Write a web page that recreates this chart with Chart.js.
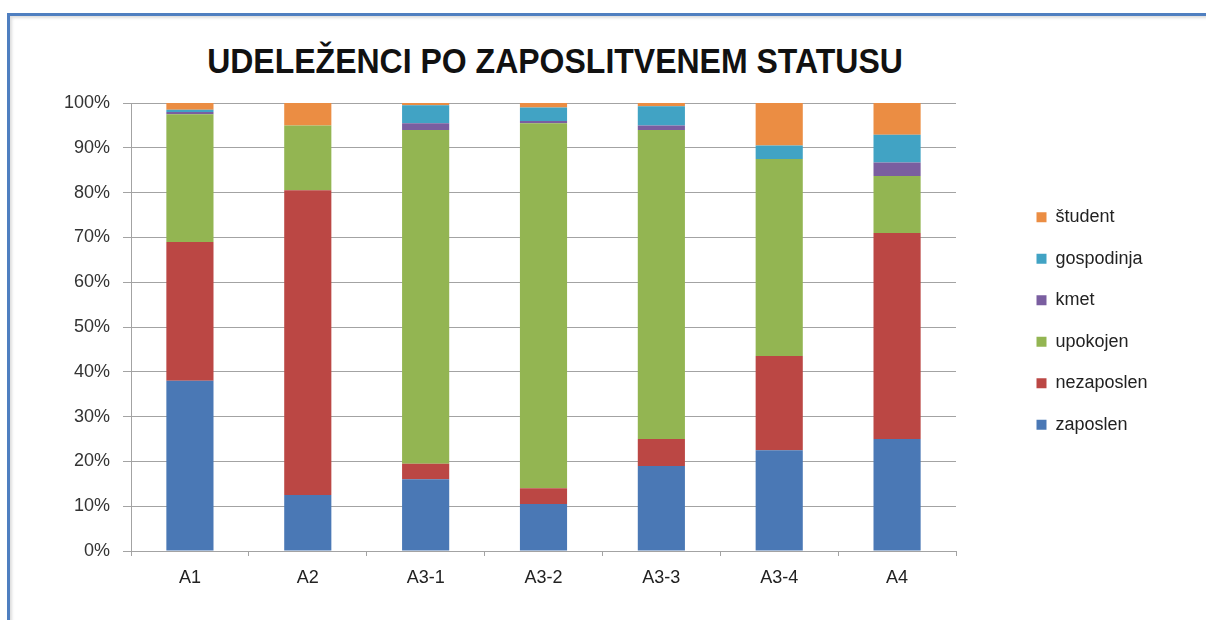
<!DOCTYPE html>
<html>
<head>
<meta charset="utf-8">
<script src="https://cdn.jsdelivr.net/npm/chart.js@4.4.0/dist/chart.umd.min.js"></script>
<style>
  html, body { margin: 0; padding: 0; background: #fff; }
  #wrap { position: relative; width: 1206px; height: 620px; overflow: hidden; }
  #frame {
    position: absolute; left: 7px; top: 13px; width: 1300px; height: 700px;
    border-top: 3px solid #4f7fc0; border-left: 3px solid #4f7fc0;
    box-shadow: inset 2px 2px 3px #ddd;
  }
  #title {
    position: absolute; left: 155px; width: 800px; top: 43px;
    text-align: center; font: bold 32px "Liberation Sans", Arial, sans-serif;
    color: #111; transform: scaleY(1.08);
  }
  canvas { position: absolute; left: 0; top: 0; }
</style>
</head>
<body>
<div id="wrap">
  <div id="frame"></div>
  <div id="title">UDELEŽENCI PO ZAPOSLITVENEM STATUSU</div>
  <canvas id="chart" width="1206" height="620"></canvas>
</div>
<script>
// kategorije (skupine udeležencev)
const categories = ["A1", "A2", "A3-1", "A3-2", "A3-3", "A3-4", "A4"];

// deleži v % po zaposlitvenem statusu (odčitano s slike)
const zaposlen   = [38, 12.5, 16, 10.5, 19, 22.5, 25];
const nezaposlen = [31, 68, 3.5, 3.5, 6, 21, 46];
const upokojen   = [28.5, 14.5, 74.5, 81.5, 69, 44, 12.7];
const kmet       = [0.5, 0, 1.5, 0.5, 1, 0, 3];
const gospodinja = [0.5, 0, 4, 3, 4.3, 3, 6.2];
const student    = [1.5, 5, 0.5, 1, 0.7, 9.5, 7.1];

const yTicks = [0, 10, 20, 30, 40, 50, 60, 70, 80, 90, 100];

const font = "'Liberation Sans', Arial, sans-serif";
const gridColor = "#a3a3a3";

const series = [
  ["zaposlen", zaposlen, "#4a78b5"],
  ["nezaposlen", nezaposlen, "#bb4744"],
  ["upokojen", upokojen, "#93b552"],
  ["kmet", kmet, "#7a5ea0"],
  ["gospodinja", gospodinja, "#41a3c4"],
  ["študent", student, "#eb8d43"]
];

// legendo malo dvignemo, da sede kot v originalu
const legendShift = {
  id: "legendShift",
  afterLayout(chart) {
    chart.legend.top -= 6;
    chart.legend.bottom -= 6;
  }
};

const ctx = document.getElementById("chart").getContext("2d");

new Chart(ctx, {
  type: "bar",
  data: {
    labels: categories,
    datasets: series.map(([label, data, color]) => ({
      label: label,
      data: data,
      backgroundColor: color,
      borderWidth: 0,
      barPercentage: 0.4,
      categoryPercentage: 1
    }))
  },
  options: {
    responsive: false,
    animation: false,
    layout: { padding: { top: 103, left: 0, bottom: 0, right: 53 } },
    scales: {
      x: {
        stacked: true,
        grid: { display: true, drawOnChartArea: false, drawTicks: true, tickLength: 5, color: gridColor },
        border: { display: true, color: gridColor, width: 1 },
        ticks: { font: { family: font, size: 18 }, color: "#222", padding: 11 },
        afterFit: s => { s.height = 69; }
      },
      y: {
        stacked: true,
        min: 0,
        max: 100,
        afterBuildTicks: s => { s.ticks = yTicks.map(v => ({ value: v })); },
        grid: { color: gridColor, tickLength: 8 },
        border: { display: true, color: gridColor, width: 1 },
        ticks: {
          font: { family: font, size: 18 },
          color: "#333",
          padding: 13,
          callback: v => v + "%"
        },
        afterFit: s => { s.width = 131; }
      },
      // prazen prostor med grafom in legendo
      gap: {
        type: "linear",
        position: "right",
        display: true,
        grid: { display: false },
        border: { display: false },
        ticks: { display: false },
        afterFit: s => { s.width = 57; }
      }
    },
    plugins: {
      legend: {
        position: "right",
        fullSize: false,
        reverse: true,
        maxWidth: 140,
        labels: {
          font: { family: font, size: 18 },
          color: "#222",
          boxWidth: 10,
          boxHeight: 10,
          padding: 23.5
        }
      },
      title: { display: false },
      tooltip: { enabled: false }
    }
  },
  plugins: [legendShift]
});
</script>
</body>
</html>
